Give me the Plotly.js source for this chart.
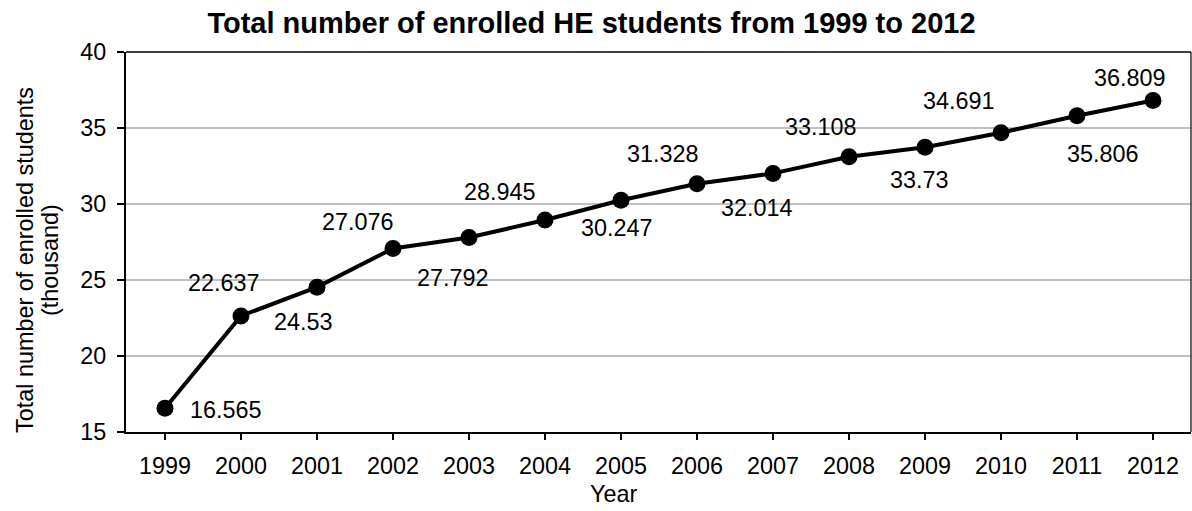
<!DOCTYPE html>
<html>
<head>
<meta charset="utf-8">
<script src="https://cdn.plot.ly/plotly-3.0.1.min.js"></script>
<style>html,body{margin:0;padding:0;background:#fff;}#chart{width:1192px;height:511px;}</style>
</head>
<body>
<div id="chart"></div>
<script>
// ---- data ----
const years = ["1999","2000","2001","2002","2003","2004","2005","2006","2007","2008","2009","2010","2011","2012"];
const students = [16.565, 22.637, 24.53, 27.076, 27.792, 28.945, 30.247, 31.328, 32.014, 33.108, 33.73, 34.691, 35.806, 36.809];
const yTicks = [15, 20, 25, 30, 35, 40];
const chartTitle = "Total number of enrolled HE students from 1999 to 2012";
const xTitle = "Year";
const yTitleLines = ["Total number of enrolled students", "(thousand)"];

// ---- label placement (style, pixels: [dx, dy up]) ----
const labelShift = [
  [61, -2], [-17, 33], [-13, -35], [-35, 26], [-16, -40], [-45, 28], [-4, -28],
  [-34, 30], [-16, -35], [-28, 30], [-6, -33], [-42, 32], [26, -38], [-23, 23]
];

const FONT = "Liberation Sans, Arial, sans-serif";
const FS = 23.4;

// category axis: position annotations by category index
const annotations = years.map((yr, i) => ({
  x: years.indexOf(yr), y: students[i], xref: "x", yref: "y",
  text: String(students[i]), showarrow: false,
  xanchor: "center", yanchor: "middle",
  xshift: labelShift[i][0], yshift: labelShift[i][1],
  font: {family: FONT, size: FS, color: "#000"}
}));

// axis titles as annotations
annotations.push({
  xref: "paper", yref: "paper", x: (613 - 126) / 1065, y: (432 - 494) / 380,
  text: xTitle, showarrow: false, xanchor: "center", yanchor: "middle",
  font: {family: FONT, size: FS, color: "#000"}
});
annotations.push({
  xref: "paper", yref: "paper", x: (25 - 126) / 1065, y: (432 - 260) / 380,
  text: yTitleLines[0], showarrow: false, textangle: -90, xanchor: "center", yanchor: "middle",
  font: {family: FONT, size: FS, color: "#000"}
});
annotations.push({
  xref: "paper", yref: "paper", x: (50 - 126) / 1065, y: (432 - 260) / 380,
  text: yTitleLines[1], showarrow: false, textangle: -90, xanchor: "center", yanchor: "middle",
  font: {family: FONT, size: FS, color: "#000"}
});

const trace = {
  type: "scatter", mode: "lines+markers",
  x: years, y: students,
  line: {color: "#000", width: 4},
  marker: {color: "#000", size: 17},
  cliponaxis: false,
  hoverinfo: "skip"
};

const layout = {
  width: 1192, height: 511,
  margin: {l: 126, r: 1, t: 52, b: 79, pad: 0},
  paper_bgcolor: "#fff", plot_bgcolor: "#fff",
  font: {family: FONT, size: FS, color: "#000"},
  showlegend: false,
  title: {
    text: "<b>" + chartTitle + "</b>",
    xref: "container", yref: "container",
    x: 591.5 / 1192, y: 1 - 23 / 511, xanchor: "center", yanchor: "middle",
    font: {family: FONT, size: 29, color: "#000"}
  },
  xaxis: {
    type: "category", range: [-0.513, 13.5],
    showline: true, linecolor: "#000", linewidth: 2,
    ticks: "outside", ticklen: 6, tickwidth: 1.5, tickcolor: "#000",
    showgrid: false, zeroline: false,
    tickfont: {family: FONT, size: FS, color: "#000"},
    ticklabelstandoff: 6
  },
  yaxis: {
    range: [15, 40], tickvals: yTicks,
    showline: true, linecolor: "#000", linewidth: 2,
    ticks: "outside", ticklen: 7, tickwidth: 1.5, tickcolor: "#000",
    showgrid: true, gridcolor: "#c0c0c0", gridwidth: 1.3,
    zeroline: false,
    tickfont: {family: FONT, size: FS, color: "#000"},
    ticklabelstandoff: 6
  },
  shapes: [
    {type: "line", xref: "paper", yref: "paper", x0: 0, x1: 1, y0: 1, y1: 1, line: {color: "#000", width: 1.5}},
    {type: "line", xref: "paper", yref: "paper", x0: 1, x1: 1, y0: 0, y1: 1, line: {color: "#000", width: 1.2}}
  ],
  annotations: annotations
};

Plotly.newPlot("chart", [trace], layout, {displayModeBar: false, staticPlot: true});
</script>
</body>
</html>
